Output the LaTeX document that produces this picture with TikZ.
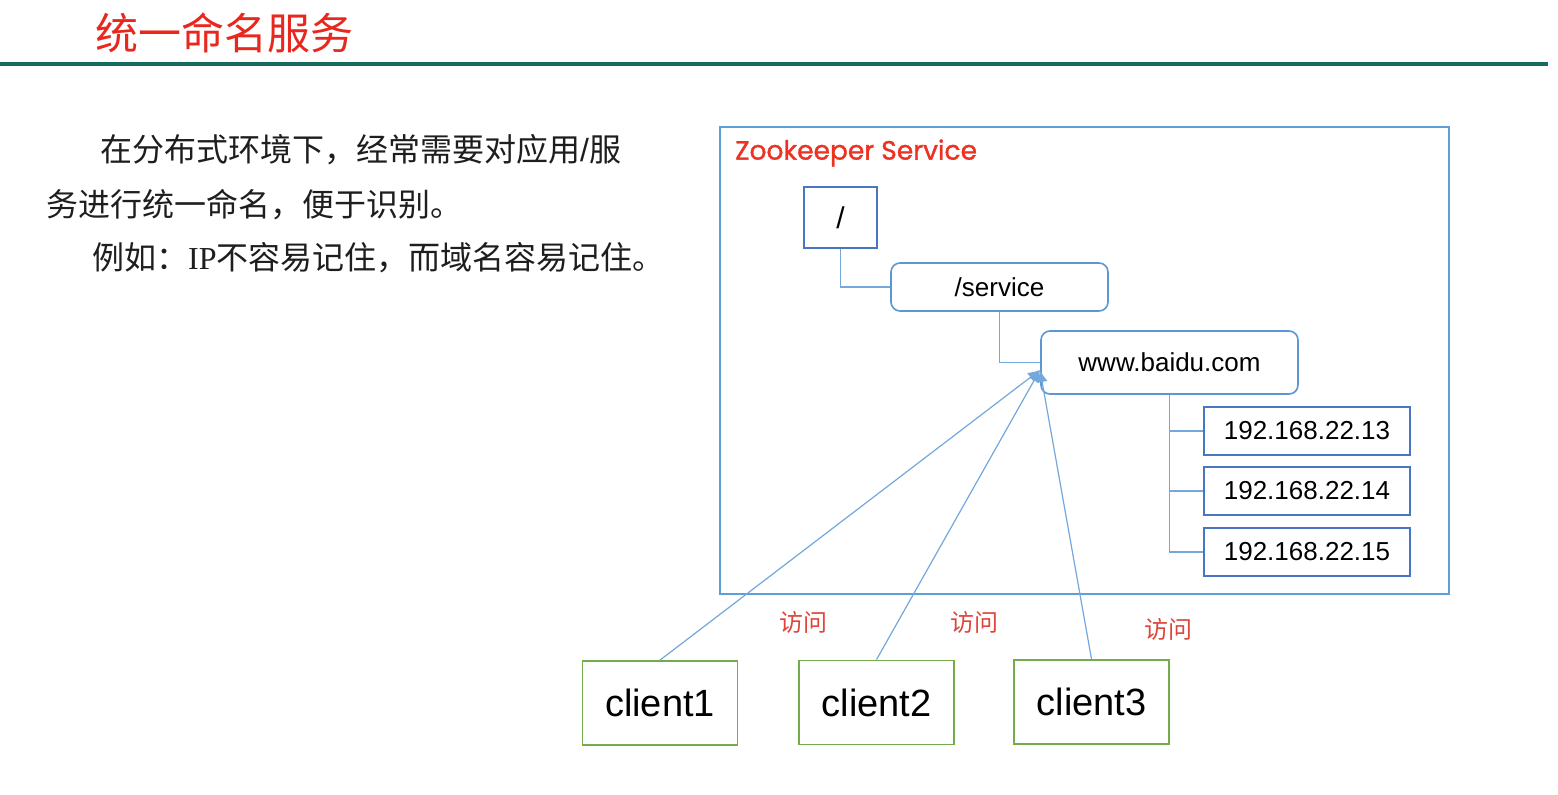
\documentclass[tikz,border=0pt]{standalone}
\usepackage{fontspec}
\setmainfont{Liberation Sans}
\newfontfamily\cjk{Noto Sans CJK SC}
\newfontfamily\zkfont{Poppins}[FakeBold=1.2]
\newfontfamily\ipserif{Liberation Serif}
\usetikzlibrary{positioning,arrows.meta}
\definecolor{titlered}{RGB}{232,40,30}
\definecolor{zkred}{RGB}{236,50,35}
\definecolor{visitred}{RGB}{222,70,60}
\definecolor{barteal}{RGB}{22,108,92}
\definecolor{frameblue}{RGB}{96,158,214}
\definecolor{nodeblue}{RGB}{72,118,192}
\definecolor{roundblue}{RGB}{92,150,212}
\definecolor{linkblue}{RGB}{116,168,220}
\definecolor{cgreen}{RGB}{116,172,76}
\definecolor{bodygray}{RGB}{30,30,30}
\tikzset{
  zkframe/.style={draw=frameblue,line width=1.6pt,inner sep=0pt},
  sqbox/.style={draw=nodeblue,line width=1.8pt,inner sep=0pt,font=\fontsize{26}{28}\selectfont},
  rdbox/.style={draw=roundblue,line width=1.6pt,rounded corners=9pt,inner sep=0pt,font=\fontsize{26}{28}\selectfont},
  clientbox/.style={draw=cgreen,line width=1.8pt,minimum width=155pt,minimum height=84pt,inner sep=0pt,font=\fontsize{38}{40}\selectfont},
  treeline/.style={draw=linkblue,line width=1.2pt},
  visitline/.style={draw=linkblue,line width=1.2pt,-{Latex[length=12pt,width=11pt]}},
  visitlbl/.style={text=visitred,font=\cjk\fontsize{24}{26}\selectfont},
  bodytxt/.style={anchor=west,inner sep=0pt,text=bodygray,font=\cjk\fontsize{32}{36}\selectfont},
}

\begin{document}
\begin{tikzpicture}[x=1pt,y=-1pt]
  \useasboundingbox (0,0) rectangle (1558,795);
  \fill[white] (0,0) rectangle (1558,795);
  % heading
  \node[anchor=west,inner sep=0pt,text=titlered,font=\cjk\fontsize{43}{46}\selectfont] (title) at (95,33) {统一命名服务};
  \draw[barteal,line width=4pt] (0,64) -- (1548,64);
  \node[bodytxt] (line1) at (100,150) {在分布式环境下，经常需要对应用{\rmfamily/}服};
  \node[bodytxt] (line2) at (46,205) {务进行统一命名，便于识别。};
  \node[bodytxt] (line3) at (92,258) {例如：{\ipserif IP}不容易记住，而域名容易记住。};
  % zookeeper tree
  \node[zkframe,minimum width=729pt,minimum height=467pt,anchor=north west] (zk) at (719,126) {};
  \node[anchor=west,inner sep=0pt,text=zkred,font=\zkfont\fontsize{26.5}{29}\selectfont] (zklbl) at (735,153) {Zookeeper Service};
  \node[sqbox,minimum width=73pt,minimum height=61pt,font=\fontsize{30}{32}\selectfont] (root) at (840.5,217.5) {/};
  \node[rdbox,minimum width=217pt,minimum height=48pt] (service) at (999.5,287) {/service};
  \node[rdbox,minimum width=257pt,minimum height=63pt] (www) at (1169.5,362.5) {www.baidu.com};
  \node[sqbox,minimum width=206pt,minimum height=48pt] (ip13) at (1307,431) {192.168.22.13};
  \node[sqbox,minimum width=206pt,minimum height=48pt] (ip14) at (1307,491) {192.168.22.14};
  \node[sqbox,minimum width=206pt,minimum height=48pt] (ip15) at (1307,552) {192.168.22.15};
  \draw[treeline] (root.south) |- (service.west);
  \draw[treeline] (service.south) |- (www.west);
  \draw[treeline] (www.south) |- (ip13.west);
  \draw[treeline] (www.south) |- (ip14.west);
  \draw[treeline] (www.south) |- (ip15.west);
  % clients
  \node[clientbox] (client1) at (660,703) {client1};
  \node[clientbox] (client2) at (876.5,702.5) {client2};
  \node[clientbox] (client3) at (1091.5,702) {client3};
  \coordinate (hit) at (1040,370);
  \draw[visitline] (client1.north) -- (hit);
  \draw[visitline] (client2.north) -- (hit);
  \draw[visitline] (client3.north) -- (hit);
  \node[visitlbl] (visit1) at (803,622) {访问};
  \node[visitlbl] (visit2) at (974,622) {访问};
  \node[visitlbl] (visit3) at (1168,629) {访问};
\end{tikzpicture}
\end{document}
